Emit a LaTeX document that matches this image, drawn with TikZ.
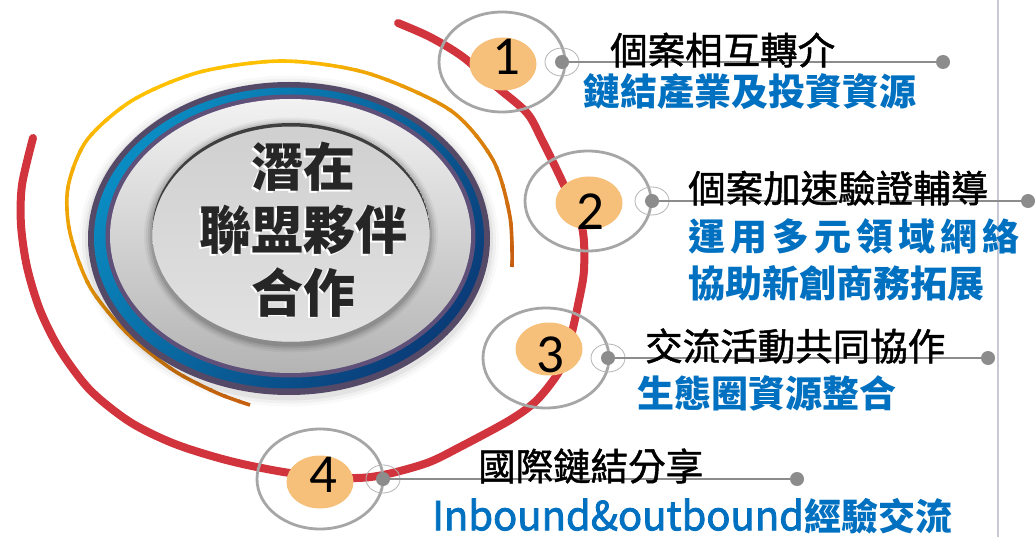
\documentclass[tikz,border=0pt]{standalone}
\usepackage{fontspec}
\setmainfont{Noto Sans CJK TC}
\newfontfamily\cjk{Noto Sans CJK TC}
\newfontfamily\cjkt[FakeBold=1.3]{Noto Sans CJK TC}
\newfontfamily\cjkl[FakeBold=2]{Noto Sans CJK TC}
\newfontfamily\numfont{Carlito}
\usetikzlibrary{shapes.geometric}
\definecolor{redarc}{HTML}{D1343C}
\definecolor{yel}{HTML}{FFC000}
\definecolor{brn}{HTML}{C55A11}
\definecolor{ringgray}{HTML}{A6A6A6}
\definecolor{linegray}{HTML}{8C8C8C}
\definecolor{orng}{HTML}{F7C07A}
\definecolor{blu}{HTML}{0070C0}
\definecolor{vline}{HTML}{C8C8D6}
\definecolor{rim}{HTML}{554968}
\definecolor{rimin}{HTML}{5E5078}
\definecolor{cyanb}{HTML}{0A8CC2}
\definecolor{navyb}{HTML}{0A3C78}
\definecolor{txtd}{HTML}{262626}
\definecolor{ringtop}{HTML}{F2F2F2}
\definecolor{ringbot}{HTML}{B4B4B4}
\definecolor{innerf}{HTML}{DADADA}
\definecolor{innerd}{HTML}{3F3F3F}
\newcommand\yarcdraw[1]{\draw[#1, line width=3.6pt] plot[smooth] coordinates {(250,405) (217,393) (173,370) (127,333) (90,287) (70,233) (68,187) (87,140) (133,100) (200,72) (283,61) (367,73) (450,110) (493,160) (510,217) (512,267)};}
\tikzset{
  bigring/.style={ellipse, draw=ringgray, line width=2.8pt, minimum width=126, minimum height=100, inner sep=0},
  numfill/.style={ellipse, fill=orng, minimum width=67, minimum height=53, inner sep=0},
  smallring/.style={ellipse, draw=ringgray!85, line width=0.8pt, minimum width=34, minimum height=28, inner sep=0},
  dotnode/.style={circle, fill=linegray, minimum size=14, inner sep=0},
  conn/.style={draw=linegray, line width=2.6pt},
  digit/.style={font=\numfont\fontsize{55}{55}\selectfont, text=black, inner sep=0},
  ttl/.style={font=\cjkt\fontsize{37.5}{37.5}\selectfont, text=black, anchor=west, inner sep=0},
  sub/.style={font=\cjk\bfseries\fontsize{37}{37}\selectfont, text=blu, anchor=west, inner sep=0},
  ctr/.style={font=\cjk\bfseries\fontsize{52}{52}\selectfont, text=txtd, inner sep=0},
  ctrsh/.style={font=\cjk\bfseries\fontsize{52}{52}\selectfont, text=white, inner sep=0},
}
\begin{document}
\begin{tikzpicture}[x=1pt,y=-1pt]
\useasboundingbox (0,0) rectangle (1035,537);
\fill[white] (0,0) rectangle (1035,537);
% right vertical rule
\draw[vline, line width=2.5pt] (998,0) -- (998,537);
% big red arc
\draw[redarc, line width=8pt, line cap=round] plot[smooth] coordinates {(33,138) (22,185) (21,225) (27,267) (40,310) (60,350) (90,390) (130,422) (175,444) (230,461) (290,473) (350,478) (383,475) (427,463) (460,447) (510,420) (537,400) (560,370) (570,340) (578,305) (584,270) (582,227) (563,183) (542,140) (527,113) (497,87) (463,57) (430,37) (398,23)};
% yellow-orange arc with gradient
\foreach \a in {-12,-7,...,258} {
  \pgfmathsetmacro\m{\a<88 ? (\a+12) : (\a<140 ? 100 : max(0,100-(\a-140)*100/120))}
  \pgfmathsetmacro\pa{-\a+0.4}
  \pgfmathsetmacro\pb{-\a-5.4}
  \begin{scope}
    \clip (290,235) -- ([shift={(290,235)}]\pa:420) -- ([shift={(290,235)}]\pb:420) -- cycle;
    \yarcdraw{color=yel!\m!brn}
  \end{scope}
}
% central disc
\foreach \i/\o in {9/0.025,6/0.035,3/0.05} {
  \fill[black, opacity=\o] (289,241) ellipse [x radius=201+\i, y radius=156.5+\i];
}
\fill[rim] (289,238.5) ellipse [x radius=201, y radius=156.5];
\shade[top color=cyanb, bottom color=navyb, shading angle=50] (289,238) ellipse [x radius=195, y radius=150.5];
\fill[rimin] (290.5,236) ellipse [x radius=185, y radius=141.5];
\shade[top color=ringtop, bottom color=ringbot] (290.5,236) ellipse [x radius=180.5, y radius=137];
\foreach \i/\o in {8/0.04,6/0.06,4/0.08,2/0.1} {
  \fill[black, opacity=\o] (291,235) ellipse [x radius=139+\i, y radius=109.5+\i];
}
\shade[top color=innerf!95!black, bottom color=innerf!80!white] (291,232.5) ellipse [x radius=139, y radius=109.5];
\begin{scope}
  \clip (291,232.5) ellipse [x radius=139, y radius=109.5];
  \fill[innerd, even odd rule] (291,232.5) ellipse [x radius=139, y radius=109.5] (291,236) ellipse [x radius=139, y radius=109.5];
\end{scope}
\node[ctrsh] (c1s) at (301.5,168.5) {潛在};
\node[ctrsh] (c2s) at (301.5,231.5) {聯盟夥伴};
\node[ctrsh] (c3s) at (301.5,294) {合作};
\node[ctr] (c1) at (303,167) {潛在};
\node[ctr] (c2) at (303,230) {聯盟夥伴};
\node[ctr] (c3) at (303,292.5) {合作};
% item rings
\node[bigring] (r1) at (502,62) {};
\node[bigring] (r2) at (588,201) {};
\node[bigring] (r3) at (546,358) {};
\node[bigring] (r4) at (320,479) {};
\node[numfill] (o1) at (503,64) {};
\node[numfill] (o2) at (589,203) {};
\node[numfill] (o3) at (549,349) {};
\node[numfill] (o4) at (320,482) {};
\node[digit] (n1) at (506,57) {1};
\node[digit] (n2) at (590,212) {2};
\node[digit] (n3) at (550,355) {3};
\node[digit] (n4) at (323,475) {4};
% connectors
\node[smallring] (s1) at (562,62) {};
\node[smallring] (s2) at (652,201) {};
\node[smallring] (s3) at (608,358) {};
\node[smallring] (s4) at (383,479) {};
\node[dotnode] (p1) at (562,62) {};
\node[dotnode] (p2) at (652,201) {};
\node[dotnode] (p3) at (608,358) {};
\node[dotnode] (p4) at (383,479) {};
\node[dotnode] (e1) at (943,62) {};
\node[dotnode] (e2) at (1028,201) {};
\node[dotnode] (e3) at (988,358) {};
\node[dotnode] (e4) at (797,479) {};
\draw[conn] (p1.center) -- (e1.center);
\draw[conn] (p2.center) -- (e2.center);
\draw[conn] (p3.center) -- (e3.center);
\draw[conn] (p4.center) -- (e4.center);
% texts
\node[ttl] (t1) at (610,50) {個案相互轉介};
\node[sub] (u1) at (583,92) {鏈結產業及投資資源};
\node[ttl] (t2) at (688,188) {個案加速驗證輔導};
\node[sub] (u2) at (688,236) {運\kern5pt 用\kern5pt 多\kern5pt 元\kern5pt 領\kern5pt 域\kern5pt 網\kern5pt 絡};
\node[sub] (u2b) at (688,283) {協助新創商務拓展};
\node[ttl] (t3) at (645,346) {交流活動共同協作};
\node[sub] (u3) at (637,393) {生態圈資源整合};
\node[ttl] (t4) at (478,466) {國際鏈結分享};
\node[sub] (u4) at (432,516) {{\cjkl\mdseries\fontsize{40}{40}\selectfont Inbound\&outbound}經驗交流};
\end{tikzpicture}
\end{document}
